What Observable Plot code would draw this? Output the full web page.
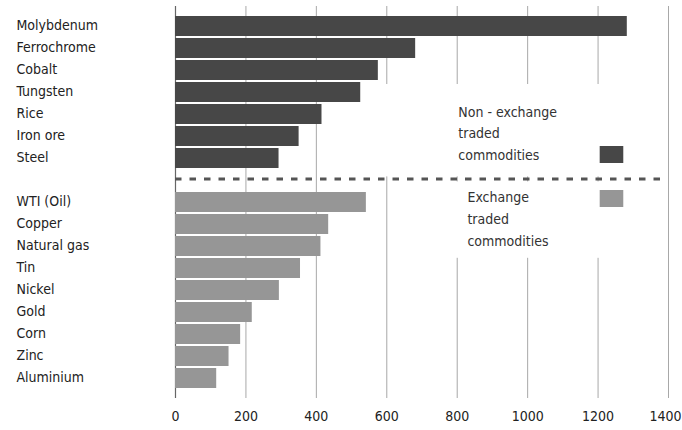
<!DOCTYPE html>
<html>
<head>
<meta charset="utf-8">
<script src="https://cdn.jsdelivr.net/npm/d3@7"></script>
<script src="https://cdn.jsdelivr.net/npm/@observablehq/plot@0.6"></script>
<style>
  html, body { margin: 0; padding: 0; background: #fff; }
  #chart svg { display: block; }
</style>
</head>
<body>
<div id="chart"></div>
<script>
// Data
const nonExchange = ["Molybdenum", "Ferrochrome", "Cobalt", "Tungsten", "Rice", "Iron ore", "Steel"];
const nonExchangeValues = [1283, 682, 576, 526, 416, 351, 294];
const exchange = ["WTI (Oil)", "Copper", "Natural gas", "Tin", "Nickel", "Gold", "Corn", "Zinc", "Aluminium"];
const exchangeValues = [542, 435, 413, 355, 295, 218, 185, 152, 117];
const xTicks = [0, 200, 400, 600, 800, 1000, 1200, 1400];
const legendLabels = ["Non - exchange\ntraded\ncommodities", "Exchange\ntraded\ncommodities"];

const SPACER = " ";
const domain = [...nonExchange, SPACER, ...exchange];
const rows = [
  ...nonExchange.map((name, i) => ({name, value: nonExchangeValues[i], group: "non"})),
  ...exchange.map((name, i) => ({name, value: exchangeValues[i], group: "ex"}))
];

const DARK = "#474747", LIGHT = "#969696";
const FONT = "'DejaVu Sans Condensed', 'DejaVu Sans', sans-serif";

const mask = (cats, x1, x2, insetTop, insetBottom) =>
  Plot.barX(cats, {y: d => d, x1: () => x1, x2: () => x2, fill: "white", insetTop, insetBottom});

const lastTick = xTicks[xTicks.length - 1];

const chart = Plot.plot({
  width: 682,
  height: 430,
  marginLeft: 175,
  marginRight: 14,
  marginTop: 6,
  marginBottom: 32,
  style: {fontFamily: FONT, fontSize: "14px", color: "#222", background: "white"},
  x: {domain: [0, 1400], ticks: xTicks, label: null},
  y: {domain, paddingInner: 0.1, paddingOuter: 0.33, axis: null},
  marks: [
    Plot.ruleX(xTicks.filter(t => t > 0), {stroke: "#a8a8a8", strokeWidth: 1}),
    Plot.ruleX([0], {stroke: "#666", strokeWidth: 1.2}),
    // legend backgrounds masking the grid
    mask(["Tungsten"], 590, 1370, 2, -1.3),
    mask(["Rice", "Iron ore", "Steel"], 590, 1370, -1.3, -1.3),
    mask([SPACER], 590, 1370, -1.3, 13.6),
    mask([SPACER], 780, 1330, 11.4, -1.3),
    mask(["WTI (Oil)", "Copper"], 780, 1330, -1.3, -1.3),
    mask(["Natural gas"], 780, 1330, -1.3, -1.8),
    Plot.barX(rows, {y: "name", x: "value", fill: d => d.group === "non" ? DARK : LIGHT}),
    Plot.ruleY([SPACER], {x1: 0, x2: 1400, dy: -1.6, stroke: "#555", strokeWidth: 3, strokeDasharray: "6.5,8"}),
    Plot.text(rows, {y: "name", text: "name", frameAnchor: "left", dx: -159, dy: -1, textAnchor: "start", fill: "#222", fontSize: 14}),
    // legend
    Plot.text([legendLabels[0]], {y: () => "Iron ore", x: () => 803, text: d => d, textAnchor: "start", lineAnchor: "middle", lineHeight: 1.535, dy: -5, fill: "#333", fontSize: 14}),
    Plot.text([legendLabels[1]], {y: () => "Copper", x: () => 829, text: d => d, textAnchor: "start", lineAnchor: "middle", lineHeight: 1.55, dy: -7.5, fill: "#333", fontSize: 14}),
    Plot.barX(["Steel"], {y: d => d, x1: () => 1206, x2: () => 1273, fill: DARK, insetTop: -2, insetBottom: 5}),
    Plot.barX(["WTI (Oil)"], {y: d => d, x1: () => 1206, x2: () => 1273, fill: LIGHT, insetTop: -2, insetBottom: 5}),
    Plot.axisX({ticks: xTicks.filter(t => t < lastTick), tickFormat: d => String(d), tickSize: 0, tickPadding: 13, fontSize: 14, label: null, fill: "#222"}),
    Plot.axisX({ticks: [lastTick], tickFormat: d => String(d), tickSize: 0, tickPadding: 13, fontSize: 14, dx: -3, label: null, fill: "#222"})
  ]
});
document.getElementById("chart").append(chart);
</script>
</body>
</html>
